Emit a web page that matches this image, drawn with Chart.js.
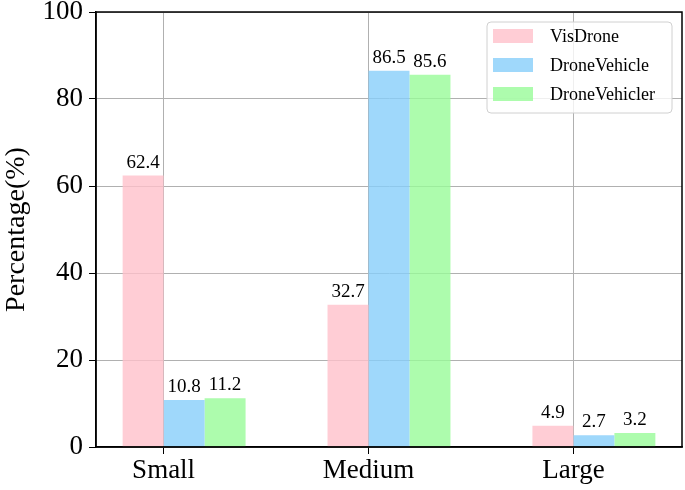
<!DOCTYPE html>
<html>
<head>
<meta charset="utf-8">
<script src="https://cdn.jsdelivr.net/npm/chart.js@4.4.0/dist/chart.umd.min.js"></script>
<style>
  html, body { margin: 0; padding: 0; background: #fff; }
  #wrap { width: 685px; height: 490px; }
</style>
</head>
<body>
<div id="wrap"><canvas id="sizeChart" width="685" height="490"></canvas></div>
<script>
const categories = ['Small', 'Medium', 'Large'];
const seriesNames = ['VisDrone', 'DroneVehicle', 'DroneVehicler'];
const visDrone = [62.4, 32.7, 4.9];
const droneVehicle = [10.8, 86.5, 2.7];
const droneVehicler = [11.2, 85.6, 3.2];
const yTicks = [0, 20, 40, 60, 80, 100];

const serif = '"Liberation Serif", "Times New Roman", serif';
Chart.defaults.font.family = serif;
Chart.defaults.color = '#000';

const toPoints = (arr) => arr.map((v, i) => ({ x: i, y: v }));

// label each bar with its value
const valueLabels = {
  id: 'valueLabels',
  afterDatasetsDraw(chart) {
    const ctx = chart.ctx;
    ctx.save();
    ctx.font = '19px ' + serif;
    ctx.fillStyle = '#000';
    ctx.textAlign = 'center';
    ctx.textBaseline = 'alphabetic';
    chart.data.datasets.forEach((ds, di) => {
      if (ds.spacer) return;
      const meta = chart.getDatasetMeta(di);
      meta.data.forEach((bar, i) => {
        ctx.fillText(ds.data[i].y.toFixed(1), bar.x, bar.y - 8);
      });
    });
    ctx.restore();
  }
};

// frame + legend box in the upper right
const frameAndLegend = {
  id: 'frameAndLegend',
  afterDraw(chart) {
    const ctx = chart.ctx;
    const a = chart.chartArea;
    ctx.save();
    ctx.strokeStyle = '#000';
    ctx.lineWidth = 1.5;
    ctx.strokeRect(a.left, a.top, a.right - a.left, a.bottom - a.top);

    const w = 185, h = 91;
    const x = a.right - 10 - w, y = a.top + 10;
    ctx.beginPath();
    ctx.roundRect(x, y, w, h, 4);
    ctx.fillStyle = 'rgba(255,255,255,0.8)';
    ctx.fill();
    ctx.strokeStyle = '#d0d0d0';
    ctx.lineWidth = 1;
    ctx.stroke();

    ctx.font = '18px ' + serif;
    ctx.textAlign = 'left';
    ctx.textBaseline = 'middle';
    let row = 0;
    chart.data.datasets.forEach((ds) => {
      if (ds.spacer) return;
      const cy = y + 14 + row * 29;
      ctx.fillStyle = ds.backgroundColor;
      ctx.fillRect(x + 6, cy - 7, 40, 14);
      ctx.fillStyle = '#000';
      ctx.fillText(ds.label, x + 63, cy + 1);
      row++;
    });
    ctx.restore();
  }
};

const colors = ['rgba(255,192,203,0.8)', 'rgba(135,206,250,0.8)', 'rgba(152,251,152,0.8)'];
const seriesData = [visDrone, droneVehicle, droneVehicler];

// empty first slot so the pink bar sits left of the category centre
const datasets = [{ label: '', data: [], spacer: true }].concat(
  seriesNames.map((name, k) => ({
    label: name,
    data: toPoints(seriesData[k]),
    backgroundColor: colors[k],
    borderWidth: 0
  }))
);

new Chart(document.getElementById('sizeChart'), {
  type: 'bar',
  data: { datasets },
  options: {
    responsive: false,
    animation: false,
    devicePixelRatio: 1,
    categoryPercentage: 0.8,
    barPercentage: 1.0,
    layout: { padding: { top: 12, right: 3, left: 0, bottom: 0 } },
    plugins: {
      legend: { display: false },
      tooltip: { enabled: false }
    },
    scales: {
      x: {
        type: 'linear',
        min: -0.33,
        max: 2.53,
        offset: false,
        afterBuildTicks: (axis) => { axis.ticks = categories.map((c, i) => ({ value: i })); },
        afterFit: (axis) => {
          axis.height = 43;
          axis.paddingLeft = 0;
          axis.paddingRight = 0;
        },
        ticks: {
          callback: (v) => categories[v],
          font: { size: 27 },
          padding: 1,
          maxRotation: 0,
          autoSkip: false
        },
        grid: { offset: false, color: '#b0b0b0', lineWidth: 1, tickColor: '#000', tickLength: 7 },
        border: { display: true, color: '#000', width: 1.5 }
      },
      y: {
        min: 0,
        max: 100,
        afterBuildTicks: (axis) => { axis.ticks = yTicks.map(v => ({ value: v })); },
        afterFit: (axis) => {
          axis.width = 96;
          axis.paddingTop = 0;
          axis.paddingBottom = 0;
        },
        ticks: { font: { size: 27 }, padding: 6 },
        title: {
          display: true,
          text: 'Percentage(%)',
          font: { size: 28 },
          padding: { top: 0, bottom: 0 }
        },
        grid: { color: '#b0b0b0', lineWidth: 1, tickColor: '#000', tickLength: 7 },
        border: { display: true, color: '#000', width: 1.5 }
      }
    }
  },
  plugins: [valueLabels, frameAndLegend]
});
</script>
</body>
</html>
